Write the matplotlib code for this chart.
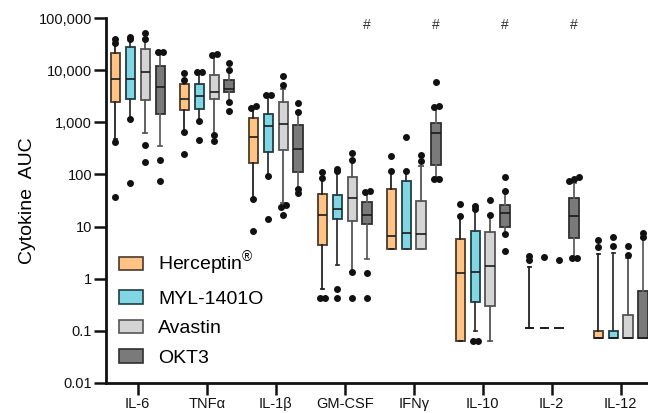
import numpy as np
import matplotlib
matplotlib.use("Agg")
import matplotlib.pyplot as plt
from matplotlib.patches import Patch

plt.rcParams['font.family'] = ['Liberation Sans', 'DejaVu Sans']
plt.rcParams['mathtext.fontset'] = 'custom'
plt.rcParams['mathtext.rm'] = 'Liberation Sans'

# kategori sitokin
sitokin = ['IL-6', 'TNFα', 'IL-1β', 'GM-CSF', 'IFNγ', 'IL-10', 'IL-2', 'IL-12']

# tiap item: (whisker bawah, Q1, median, Q3, whisker atas, [titik-titik])
herceptin = [
    (470, 2440, 6900, 21300, 33000, [37, 416, 34000, 40000]),
    (660, 1730, 2860, 5540, 6440, [251, 660, 6440, 8900]),
    (34, 169, 519, 1200, 1900, [8.3, 34, 1900, 2100]),
    (0.64, 4.5, 16.9, 42.9, 87, [0.43, 0.43, 87, 110]),
    (3.7, 3.7, 6.7, 52, 118, [118, 226]),
    (0.063, 0.063, 1.28, 5.7, 16, [16, 27]),
    (0.113, 0.113, 0.113, 0.113, 1.65, [2.3, 2.76]),
    (0.071, 0.071, 0.071, 0.099, 3.0, [4.0, 5.5]),
]
myl = [
    (1160, 2860, 6900, 28100, 39500, [70, 1160, 39500, 44400]),
    (1070, 1840, 3220, 5540, 9100, [454, 1070, 9100, 9200]),
    (95, 270, 856, 1470, 3300, [13.8, 95, 3300, 3400]),
    (1.85, 14.2, 21.8, 41, 115, [0.43, 0.64, 115, 130]),
    (3.7, 3.7, 7.6, 76, 115, [115, 525]),
    (0.097, 0.36, 1.36, 8.3, 19.9, [0.062, 0.062, 21.6, 25]),
    (0.113, 0.113, 0.113, 0.113, 0.113, [2.6]),
    (0.071, 0.071, 0.071, 0.099, 3.1, [4.2, 6.4]),
]
avastin = [
    (618, 2690, 9300, 25700, 40000, [171, 374, 40000, 51500]),
    (570, 2820, 3890, 8040, 20000, [441, 570, 20000, 21000]),
    (28, 295, 930, 2500, 4390, [17, 24, 26, 5240, 7800]),
    (1.36, 12.6, 34.9, 91, 190, [0.43, 1.36, 190, 262]),
    (3.7, 3.7, 7.3, 30.6, 148, [180, 232]),
    (0.062, 0.30, 1.77, 8.0, 17, [17, 32]),
    (0.113, 0.113, 0.113, 0.113, 0.113, [2.25]),
    (0.071, 0.071, 0.071, 0.198, 2.5, [2.85, 4.3]),
]
okt3 = [
    (353, 1450, 4790, 12100, 22500, [74, 188, 22500, 23000]),
    (2440, 3850, 4330, 6440, 10300, [1660, 2440, 10300, 13700]),
    (53, 110, 313, 893, 1610, [45, 53, 1610, 2330]),
    (2.4, 11.1, 16.7, 30, 47, [0.43, 1.27, 47, 49]),
    (88, 154, 635, 988, 2000, [81, 81, 2000, 2100, 5900]),
    (7.1, 9.7, 18, 26, 49, [3.35, 7.1, 49, 91]),
    (2.64, 6.0, 16.2, 35, 68, [2.5, 2.5, 75, 81, 88]),
    (0.071, 0.071, 0.071, 0.57, 6.0, [6.4, 7.4]),
]

nama_seri = ['Herceptin$^{®}$', 'MYL-1401O', 'Avastin', 'OKT3']
semua_data = [herceptin, myl, avastin, okt3]
warna = ['#FFC485', '#82D6E3', '#D4D4D4', '#7A7A7A']
warna_tepi = ['#4a3a2a', '#1f3f45', '#555555', '#303030']
warna_whisker = ['#222222', '#333333', '#555555', '#606060']

# grup dengan tanda '#'
tanda_pagar = ['GM-CSF', 'IFNγ', 'IL-10', 'IL-2']

offset = [-0.325, -0.108, 0.108, 0.325]
lebar = 0.135

fig = plt.figure(figsize=(6.48, 4.13), dpi=100)
ax = fig.add_axes([106 / 648, 1 - 382.7 / 413, 1 - 106 / 648, (382.7 - 18.3) / 413])
ax.set_yscale('log')

x_pos = np.arange(len(sitokin))

for s, data in enumerate(semua_data):
    stats = []
    for lo, q1, med, q3, hi, fl in data:
        stats.append(dict(whislo=lo, q1=q1, med=med, q3=q3, whishi=hi, fliers=[]))
    ax.bxp(stats, positions=x_pos + offset[s], widths=lebar, patch_artist=True,
           showfliers=False, capwidths=0.05,
           boxprops=dict(facecolor=warna[s], edgecolor=warna_tepi[s], linewidth=1.3),
           medianprops=dict(color='#1a1a1a', linewidth=1.2),
           whiskerprops=dict(color=warna_whisker[s], linewidth=1.3),
           capprops=dict(color=warna_whisker[s], linewidth=1.3))
    # titik outlier, yang berdempetan digeser sedikit ke samping
    for i, item in enumerate(data):
        fl = sorted(item[5])
        grup = []
        for v in fl:
            if grup and abs(np.log10(v) - np.log10(grup[-1][-1])) < 0.05:
                grup[-1].append(v)
            else:
                grup.append([v])
        for g in grup:
            n = len(g)
            for k, v in enumerate(g):
                dx = (k - (n - 1) / 2) * 0.07
                ax.plot(x_pos[i] + offset[s] + dx, v, 'o', color='#111111',
                        markersize=4, zorder=5)

for nama in tanda_pagar:
    i = sitokin.index(nama)
    ax.text(x_pos[i] + offset[3], 7.3e4, '#', ha='center', va='center',
            fontsize=10, color='#333333')

ax.set_ylim(0.01, 100000)
ax.set_xlim(-0.46, 7.396)
ax.set_yticks([0.01, 0.1, 1, 10, 100, 1000, 10000, 100000])
ax.set_yticklabels(['0.01', '0.1', '1', '10', '100', '1,000', '10,000', '100,000'])
ax.minorticks_off()
ax.set_xticks(x_pos)
ax.set_xticklabels(sitokin)
ax.tick_params(axis='both', labelsize=10.5, width=1.8, length=8.5, pad=1.5, colors='#111111')
ax.set_ylabel('Cytokine  AUC', fontsize=14, labelpad=2)

for sisi in ['top', 'right']:
    ax.spines[sisi].set_visible(False)
for sisi in ['left', 'bottom']:
    ax.spines[sisi].set_linewidth(2)
    ax.spines[sisi].set_color('#111111')

handles = [Patch(facecolor=warna[s], edgecolor=warna_tepi[s], linewidth=1.2)
           for s in range(4)]
ax.legend(handles, nama_seri, loc='upper left', bbox_to_anchor=(0.024, 0.365),
          frameon=False, fontsize=14, handlelength=1.25, handleheight=0.67,
          handletextpad=0.75, labelspacing=0.62, borderpad=0, borderaxespad=0)

plt.savefig('out.png', dpi=100)
